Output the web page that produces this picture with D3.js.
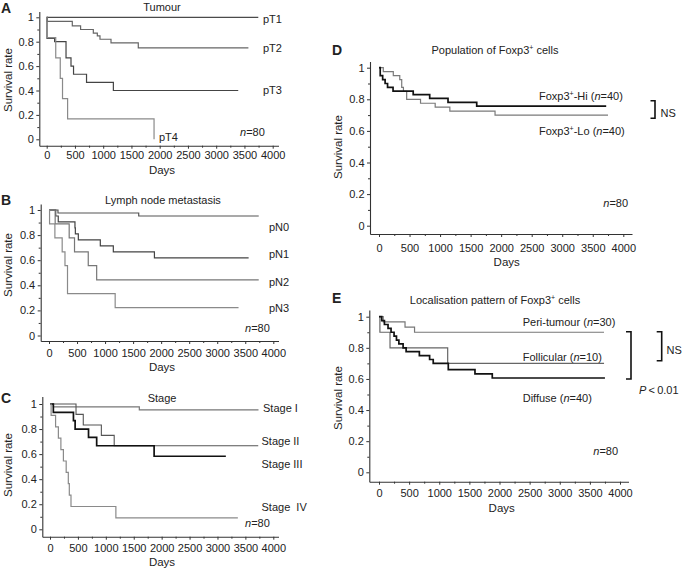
<!DOCTYPE html>
<html><head><meta charset="utf-8">
<script src="https://cdn.jsdelivr.net/npm/d3@7"></script>
<style>
body{margin:0;background:#fff}
svg{display:block}
text{font-family:"Liberation Sans",Arial,Helvetica,sans-serif;fill:#222;white-space:pre}
</style>
</head><body>
<svg id="c" width="685" height="568"></svg>
<script>
// ---------- shared ticks ----------
const dayTicks = [0,500,1000,1500,2000,2500,3000,3500,4000];
const dayMinorTicks = [250,750,1250,1750,2250,2750,3250,3750];
const rateTicks = [0,0.2,0.4,0.6,0.8,1];
const rateMinorTicks = [0.1,0.3,0.5,0.7,0.9];

// ---------- A: Tumour ([day, survival] step points, last point = end of follow-up) ----------
const tumourLabels = ["pT1","pT2","pT3","pT4"];
const pT1 = [[0,1],[3745,1]];
const pT2 = [[0,1],[10,0.966],[453,0.93],[600,0.90],[825,0.871],[896,0.847],[943,0.82],[1138,0.79],[1621,0.75],[3570,0.75]];
const pT3 = [[0,1],[5,0.828],[140,0.80],[342,0.667],[430,0.60],[475,0.533],[705,0.467],[1180,0.40],[3390,0.40]];
const pT4 = [[0,1],[5,0.833],[160,0.667],[240,0.5],[280,0.333],[370,0.167],[1900,0],[1900,0]];

// ---------- B: Lymph node metastasis ----------
const nodeLabels = ["pN0","pN1","pN2","pN3"];
const pN0 = [[0,1],[160,0.976],[1600,0.952],[3740,0.952]];
const pN1 = [[0,1],[120,0.952],[165,0.905],[463,0.857],[470,0.81],[523,0.762],[915,0.714],[1147,0.667],[1880,0.619],[3560,0.619]];
const pN2 = [[0,1],[110,0.889],[360,0.778],[455,0.667],[700,0.556],[850,0.444],[3740,0.444]];
const pN3 = [[0,1],[10,0.889],[105,0.778],[235,0.667],[285,0.556],[330,0.333],[1180,0.222],[3380,0.222]];

// ---------- C: Stage ----------
const stageLabels = ["Stage I","Stage II","Stage III","Stage  IV"];
const stageI   = [[0,1],[60,0.977],[1600,0.953],[3735,0.953]];
const stageII  = [[0,1],[466,0.917],[596,0.833],[920,0.75],[1150,0.667],[3730,0.667]];
const stageIII = [[0,1],[60,0.933],[420,0.867],[450,0.80],[690,0.733],[836,0.667],[1865,0.583],[3150,0.583]];
const stageIV  = [[0,1],[20,0.909],[100,0.818],[150,0.727],[195,0.636],[240,0.545],[290,0.455],[328,0.364],[346,0.273],[376,0.182],[1180,0.091],[3365,0.091]];

// ---------- D: Population of Foxp3+ cells ----------
const popLabels = ["Hi","Lo"];
const popN = [40,40];
const foxHi = [[0,1],[20,0.95],[60,0.925],[100,0.90],[140,0.875],[230,0.852],[560,0.83],[830,0.806],[1130,0.781],[1600,0.757],[3720,0.757]];
const foxLo = [[0,1],[70,0.975],[234,0.95],[340,0.925],[372,0.875],[400,0.85],[453,0.80],[680,0.775],[920,0.75],[1160,0.725],[1900,0.70],[3750,0.70]];

// ---------- E: Localisation pattern of Foxp3+ cells ----------
const locLabels = ["Peri-tumour","Follicular","Diffuse"];
const locN = [30,10,40];
const periTumour = [[0,1],[70,0.967],[432,0.933],[590,0.90],[3735,0.90]];
const follicular = [[0,1],[15,0.90],[183,0.80],[1140,0.70],[3735,0.70]];
const diffuse = [[0,1],[45,0.975],[90,0.95],[150,0.925],[200,0.90],[250,0.875],[290,0.85],[330,0.825],[400,0.80],[450,0.775],[670,0.75],[840,0.725],[900,0.70],[1150,0.66],[1593,0.632],[1880,0.606],[3750,0.606]];

const totalN = 80;

// ---------- drawing ----------
const svg = d3.select("#c");
const FS = 11;

// rich text: segments {s, it, sup}
function rich(t, segs){
  let shift = 0;
  segs.forEach(sg=>{
    const target = sg.sup ? -4 : 0;
    const ts = t.append("tspan").text(sg.s);
    if(target !== shift) ts.attr("dy", target - shift);
    if(sg.it) ts.attr("font-style","italic");
    if(sg.sup) ts.attr("font-size",7);
    shift = target;
  });
}
const FOX = [{s:"Foxp3"},{s:"+",sup:true}];
const nSeg = v => [{s:"n",it:true},{s:"="+v}];

function panel(cfg){
  const g = svg.append("g");
  const x = d3.scaleLinear().domain([0,4000]).range([cfg.x0,cfg.x4k]);
  const y = d3.scaleLinear().domain([0,1]).range([cfg.yz,cfg.y1]);
  const xa = d3.scaleLinear().domain([x.invert(cfg.axX), x.invert(cfg.xEnd)]).range([cfg.axX,cfg.xEnd]);
  const ya = d3.scaleLinear().domain([y.invert(cfg.axY), y.invert(cfg.yTop)]).range([cfg.axY,cfg.yTop]);

  // minor ticks
  g.append("g").attr("transform",`translate(0,${cfg.axY})`)
    .call(d3.axisBottom(xa).tickValues(dayMinorTicks).tickSize(2).tickFormat("").tickSizeOuter(0))
    .call(s=>s.select(".domain").remove())
    .selectAll("line").attr("stroke","#333");
  g.append("g").attr("transform",`translate(${cfg.axX},0)`)
    .call(d3.axisLeft(ya).tickValues(rateMinorTicks).tickSize(2).tickFormat("").tickSizeOuter(0))
    .call(s=>s.select(".domain").remove())
    .selectAll("line").attr("stroke","#333");

  const gx = g.append("g").attr("transform",`translate(0,${cfg.axY})`)
    .call(d3.axisBottom(xa).tickValues(dayTicks).tickSize(3).tickPadding(cfg.xPad).tickSizeOuter(0).tickFormat(d3.format("d")));
  const gy = g.append("g").attr("transform",`translate(${cfg.axX},0)`)
    .call(d3.axisLeft(ya).tickValues(rateTicks).tickSize(3).tickPadding(2.5).tickSizeOuter(0).tickFormat(d=>d===0||d===1?String(d):d.toFixed(1)));
  [gx,gy].forEach(a=>{
    a.attr("font-family",null).attr("font-size",null);
    a.selectAll("text").attr("font-size",FS).attr("fill","#222");
    a.selectAll("line").attr("stroke","#333");
    a.select(".domain").attr("stroke","#333").attr("stroke-width",1.1);
  });

  // curves
  const line = d3.line().x(d=>x(d[0])).y(d=>y(d[1])).curve(d3.curveStepAfter);
  cfg.series.forEach(s=>{
    g.append("path").datum(s.data).attr("d",line).attr("fill","none")
      .attr("stroke",s.color).attr("stroke-width",s.w||1.2);
  });

  // panel letter, title, axis titles
  g.append("text").attr("x",cfg.letterX).attr("y",cfg.letterY).attr("font-weight","bold").attr("font-size",14).attr("fill","#111").text(cfg.letter);
  rich(g.append("text").attr("x",cfg.titleX).attr("y",cfg.titleY).attr("text-anchor","middle").attr("font-size",FS), cfg.title);
  g.append("text").attr("x",cfg.daysX).attr("y",cfg.daysY).attr("text-anchor","middle").attr("font-size",FS+0.5).text("Days");
  g.append("text").attr("transform",`translate(${cfg.ylabX},${cfg.ylabY}) rotate(-90)`).attr("text-anchor","middle").attr("font-size",FS+0.5).text("Survival rate");
  rich(g.append("text").attr("x",cfg.nX).attr("y",cfg.nY).attr("font-size",FS), nSeg(totalN));
  cfg.labels.forEach(l=>{
    rich(g.append("text").attr("x",l.x).attr("y",l.y).attr("font-size",FS), l.segs);
  });
  return g;
}

// Panel A
panel({letter:"A", letterX:1, letterY:13,
  x0:46.7, x4k:272.7, y1:17.3, yz:139.3, axX:39.3, axY:145.7, xEnd:278.5, yTop:11.5, xPad:2.5,
  title:[{s:"Tumour"}], titleX:162, titleY:11,
  daysX:162, daysY:174, ylabX:11.5, ylabY:80, nX:240, nY:136,
  series:[{data:pT1,color:"#4a4a4a"},{data:pT2,color:"#666"},{data:pT3,color:"#444"},{data:pT4,color:"#8a8a8a"}],
  labels:[
    {x:263,y:23,segs:[{s:tumourLabels[0]}]},
    {x:263,y:52,segs:[{s:tumourLabels[1]}]},
    {x:263,y:93.5,segs:[{s:tumourLabels[2]}]},
    {x:159,y:140.5,segs:[{s:tumourLabels[3]}]}
  ]});

// Panel B
panel({letter:"B", letterX:1, letterY:205,
  x0:49, x4k:273.3, y1:210, yz:335.5, axX:40.7, axY:341, xEnd:278.5, yTop:204, xPad:5.5,
  title:[{s:"Lymph node metastasis"}], titleX:163, titleY:204,
  daysX:162, daysY:370.5, ylabX:11.5, ylabY:265, nX:245, nY:331.5,
  series:[{data:pN0,color:"#555"},{data:pN1,color:"#444"},{data:pN2,color:"#777"},{data:pN3,color:"#8a8a8a"}],
  labels:[
    {x:269,y:230.5,segs:[{s:nodeLabels[0]}]},
    {x:269,y:258,segs:[{s:nodeLabels[1]}]},
    {x:269,y:286,segs:[{s:nodeLabels[2]}]},
    {x:269,y:311.5,segs:[{s:nodeLabels[3]}]}
  ]});

// Panel C
panel({letter:"C", letterX:1, letterY:403,
  x0:50, x4k:273.3, y1:404, yz:529.3, axX:42.3, axY:536.7, xEnd:278.5, yTop:396.5, xPad:5,
  title:[{s:"Stage"}], titleX:162, titleY:401.5,
  daysX:162, daysY:565.5, ylabX:11.5, ylabY:465, nX:245, nY:527,
  series:[{data:stageI,color:"#777"},{data:stageII,color:"#555",w:1.1},{data:stageIII,color:"#111",w:1.7},{data:stageIV,color:"#8a8a8a"}],
  labels:[
    {x:263,y:412,segs:[{s:stageLabels[0]}]},
    {x:261.5,y:444.5,segs:[{s:stageLabels[1]}]},
    {x:261.5,y:467.5,segs:[{s:stageLabels[2]}]},
    {x:261.5,y:510.5,segs:[{s:stageLabels[3]}]}
  ]});

// Panel D
panel({letter:"D", letterX:332, letterY:55,
  x0:379, x4k:623.3, y1:67.7, yz:225.7, axX:370, axY:234, xEnd:632, yTop:61.5, xPad:7.5,
  title:[{s:"Population of "},...FOX,{s:" cells"}], titleX:495, titleY:54,
  daysX:506.7, daysY:265.5, ylabX:341.5, ylabY:147, nX:603.3, nY:207,
  series:[{data:foxLo,color:"#7a7a7a"},{data:foxHi,color:"#111",w:1.7}],
  labels:[
    {x:539,y:99.5,segs:[...FOX,{s:"-"+popLabels[0]+" ("},...nSeg(popN[0]),{s:")"}]},
    {x:539,y:134.5,segs:[...FOX,{s:"-"+popLabels[1]+" ("},...nSeg(popN[1]),{s:")"}]}
  ]});

// Panel E
panel({letter:"E", letterX:332, letterY:303,
  x0:379, x4k:620, y1:316.7, yz:472.3, axX:369.3, axY:481.7, xEnd:628.5, yTop:310, xPad:5,
  title:[{s:"Localisation pattern of "},...FOX,{s:" cells"}], titleX:495, titleY:303.5,
  daysX:501.7, daysY:512, ylabX:341.5, ylabY:398, nX:593.3, nY:454.5,
  series:[{data:periTumour,color:"#777"},{data:follicular,color:"#666"},{data:diffuse,color:"#111",w:1.7}],
  labels:[
    {x:522.7,y:325.5,segs:[{s:locLabels[0]+" ("},...nSeg(locN[0]),{s:")"}]},
    {x:522.7,y:360.5,segs:[{s:locLabels[1]+" ("},...nSeg(locN[1]),{s:")"}]},
    {x:522.7,y:402,segs:[{s:locLabels[2]+" ("},...nSeg(locN[2]),{s:")"}]}
  ]});

// brackets & significance
function bracket(xv, ytop, ybot, arm){
  svg.append("path").attr("d",`M${xv-arm},${ytop}H${xv}V${ybot}H${xv-arm}`)
    .attr("fill","none").attr("stroke","#111").attr("stroke-width",1.6);
}
bracket(655,100.7,118.3,4.5);
svg.append("text").attr("x",660.5).attr("y",117).attr("font-size",FS).text("NS");
bracket(631,331.7,379,5);
bracket(661.7,331.7,360.7,5);
svg.append("text").attr("x",666.5).attr("y",354).attr("font-size",FS).text("NS");
rich(svg.append("text").attr("x",639).attr("y",394).attr("font-size",FS), [{s:"P",it:true},{s:"\u2009<\u20090.01"}]);
</script>
</body></html>
